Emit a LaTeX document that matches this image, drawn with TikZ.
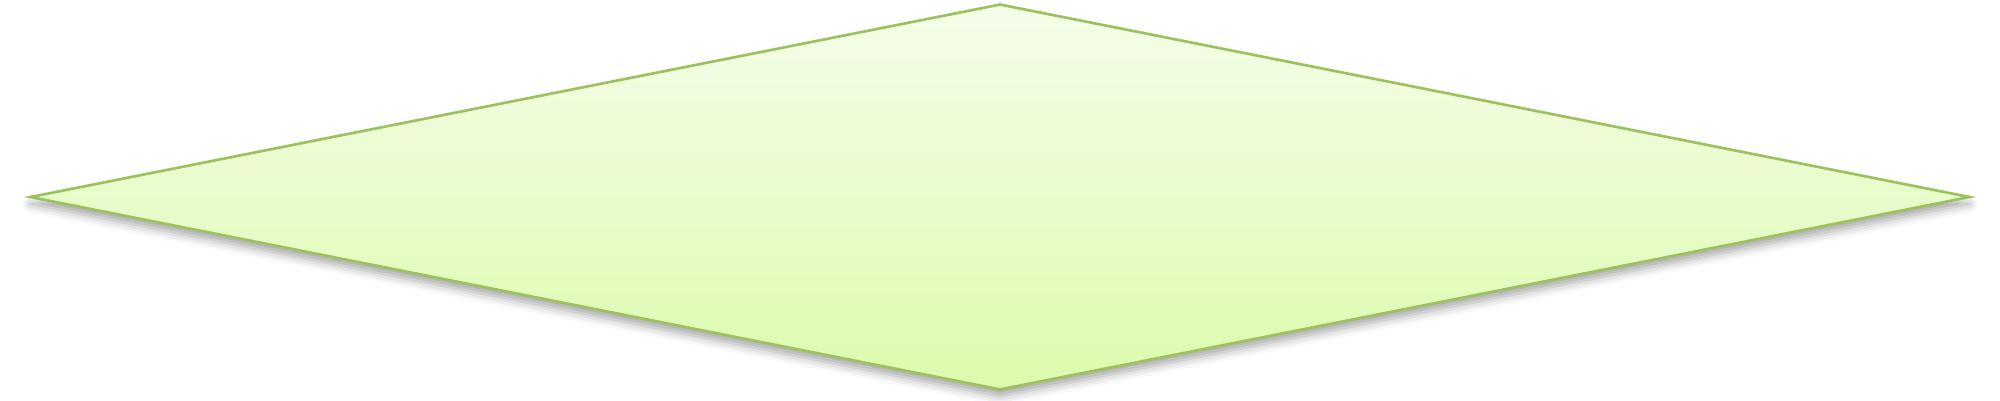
\documentclass[tikz,border=0pt]{standalone}
\usepackage{tikz}
\usetikzlibrary{shapes.geometric,shadows.blur}

\definecolor{rautenrand}{HTML}{9CC25E}
\definecolor{rautenoben}{HTML}{F5FDEA}
\definecolor{rautenunten}{HTML}{DCFBAC}

\begin{document}
\begin{tikzpicture}[
        raute/.style={diamond, draw=rautenrand, line width=0.75pt,
                      top color=rautenoben, bottom color=rautenunten,
                      inner sep=0pt,
                      minimum width=19.4cm, minimum height=3.86cm,
                      blur shadow={shadow xshift=0pt, shadow yshift=-2pt,
                                   shadow blur radius=2.5pt, shadow opacity=35}}
    ]
        \useasboundingbox (0,0) rectangle (20,4);
        \node[raute] (entscheidung) at (10,2.03) {};
    \end{tikzpicture}
\end{document}
